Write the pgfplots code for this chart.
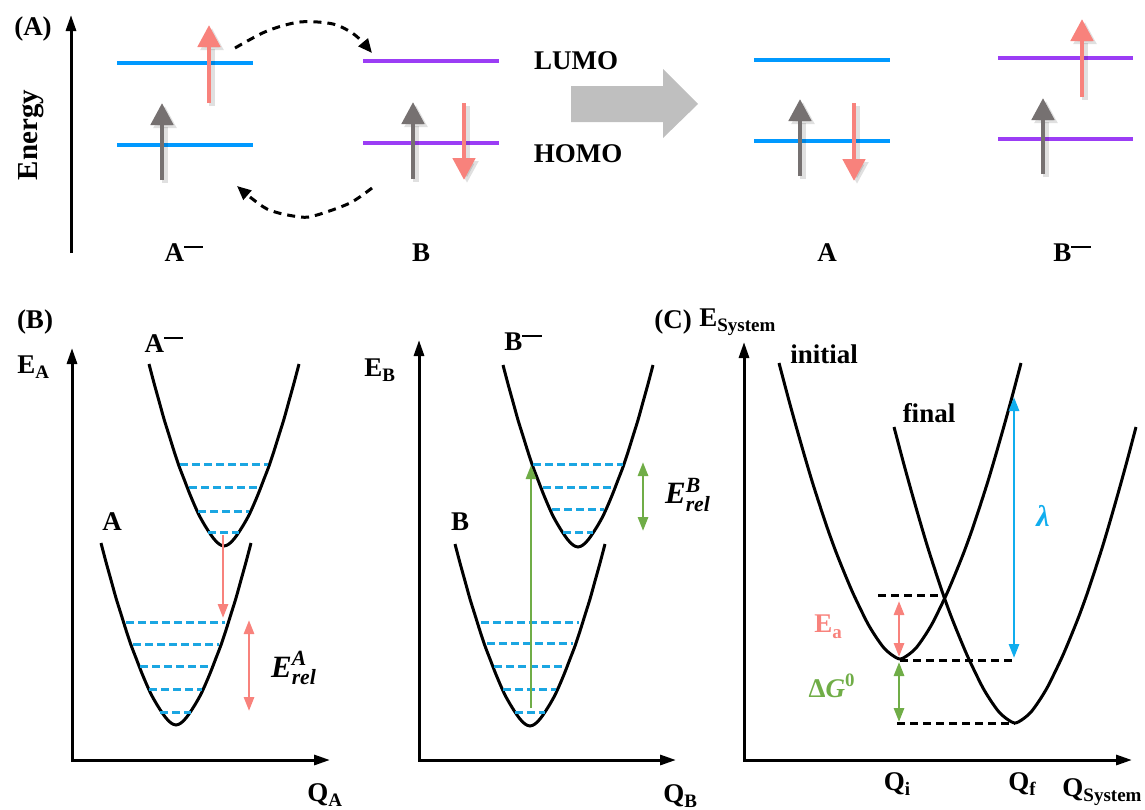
\documentclass[border=0pt]{standalone}
\usepackage{amsmath}
\usepackage{fontspec}
\setmainfont{Liberation Serif}
\usepackage{pgfplots}
\pgfplotsset{compat=1.18}
\usetikzlibrary{arrows.meta}
\definecolor{lvlblue}{HTML}{0099FF}
\definecolor{lvlpurple}{HTML}{9B3DF5}
\definecolor{spinpink}{HTML}{F8827C}
\definecolor{spingray}{HTML}{767171}
\definecolor{dashblue}{HTML}{1BA6E2}
\definecolor{mygreen}{HTML}{70AD47}
\definecolor{lamblue}{HTML}{10ADEE}
\definecolor{blockgray}{HTML}{BFBFBF}
\newcommand{\sub}[1]{\raisebox{-0.45ex}{\fontsize{9.5}{10}\selectfont #1}}
\newcommand{\mns}{\raisebox{0.5em}{\rule{0.72em}{0.1em}}}
\tikzset{
  lbl/.style={font=\fontsize{13.5}{16}\selectfont\bfseries, inner sep=0pt},
  spin/.style={line width=2.4pt, -{Triangle[length=11pt,width=11pt]}},
  shadow/.style={line width=2.6pt, black, opacity=0.12, -{Triangle[length=11pt,width=11pt]}},
  ax/.style={black, line width=1.5pt},
  curve/.style={black, line width=1.5pt, smooth},
  lvl/.style={line width=1.8pt},
  dlvl/.style={dashblue, line width=1.5pt, dash pattern=on 4pt off 2pt},
  dblk/.style={black, line width=1.5pt, dash pattern=on 4pt off 2.5pt},
  darr/.style={line width=1.4pt, {Triangle[length=7pt,width=5pt]}-{Triangle[length=7pt,width=5pt]}},
}
\begin{document}
\begin{tikzpicture}
\begin{axis}[scale only axis, width=572.5pt, height=404.5pt,
  xmin=0, xmax=1145, ymin=0, ymax=809, y dir=reverse, hide axis, clip=false]
% ===== Panel A =====
\addplot[ax, -{Triangle[length=8pt,width=5pt]}] coordinates {(71,253) (71,15)};
\addplot[lvl, lvlblue] coordinates {(117,63) (253,63)};
\addplot[lvl, lvlblue] coordinates {(117,145) (253,145)};
\addplot[lvl, lvlpurple] coordinates {(363,61) (499,61)};
\addplot[lvl, lvlpurple] coordinates {(363,143) (499,143)};
\addplot[lvl, lvlblue] coordinates {(754,60) (890,60)};
\addplot[lvl, lvlblue] coordinates {(754,141) (890,141)};
\addplot[lvl, lvlpurple] coordinates {(998,58) (1133,58)};
\addplot[lvl, lvlpurple] coordinates {(998,139) (1133,139)};
\addplot[shadow] coordinates {(165,183) (165,106)};
\addplot[shadow] coordinates {(212,106) (212,28)};
\addplot[shadow] coordinates {(416,182) (416,105)};
\addplot[shadow] coordinates {(467,106) (467,183)};
\addplot[shadow] coordinates {(803,179) (803,102)};
\addplot[shadow] coordinates {(857,106) (857,184)};
\addplot[shadow] coordinates {(1046,177) (1046,101)};
\addplot[shadow] coordinates {(1085,100) (1085,22)};
\addplot[spin, spingray] coordinates {(162,180) (162,103)};
\addplot[spin, spinpink] coordinates {(209,103) (209,25)};
\addplot[spin, spingray] coordinates {(413,179) (413,102)};
\addplot[spin, spinpink] coordinates {(464,103) (464,180)};
\addplot[spin, spingray] coordinates {(800,176) (800,99)};
\addplot[spin, spinpink] coordinates {(854,103) (854,181)};
\addplot[spin, spingray] coordinates {(1043,174) (1043,98)};
\addplot[spin, spinpink] coordinates {(1082,97) (1082,19)};
\addplot[black, line width=1.5pt, smooth, dash pattern=on 4pt off 3pt, -{Triangle[length=7pt,width=6pt]}]
  coordinates {(235,48) (267,31) (300,22) (333,24) (355,35) (372,53)};
\addplot[black, line width=1.5pt, smooth, dash pattern=on 4pt off 3pt, -{Triangle[length=7pt,width=6pt]}]
  coordinates {(372,188) (350,203) (317,215) (300,217) (267,209) (237,186)};
\addplot[fill=blockgray, draw=none] coordinates {(571,86) (663,86) (663,69) (698,104) (663,138) (663,122) (571,122) (571,86)};
\node[lbl] at (axis cs:33,29) {(A)};
\node[lbl, rotate=90, font=\fontsize{14.5}{16}\selectfont\bfseries] at (axis cs:31,135) {Energy};
\node[lbl] at (axis cs:184,253) {A\mns};
\node[lbl] at (axis cs:421,253) {B};
\node[lbl] at (axis cs:576,61) {LUMO};
\node[lbl] at (axis cs:578,154) {HOMO};
\node[lbl] at (axis cs:827,253) {A};
\node[lbl] at (axis cs:1072,253) {B\mns};

% ===== Panel B left =====
\addplot[ax, {Triangle[length=8pt,width=5pt]}-{Triangle[length=8pt,width=5pt]}] coordinates {(72,348) (72,760) (330,760)};
% A- curve
\addplot[curve] coordinates {(149,364) (154,383) (159,401) (164,419) (169,435) (174,451) (179,466) (184,479) (189,492) (194,504) (199,515) (204,524) (209,532) (214,539) (219,544) (224,546) (229,544) (234,539) (239,532) (244,524) (249,515) (254,504) (259,492) (264,479) (269,466) (274,451) (279,435) (284,419) (289,401) (294,383) (299,364)};
% A curve
\addplot[curve] coordinates {(101,543) (106,562) (111,580) (116,598) (121,614) (126,630) (131,645) (136,658) (141,671) (146,683) (151,694) (156,703) (161,711) (166,718) (171,723) (176,725) (181,723) (186,718) (191,711) (196,703) (201,694) (206,683) (211,671) (216,658) (221,645) (226,630) (231,614) (236,598) (241,580) (246,562) (251,543)};
\addplot[dlvl] coordinates {(180,464) (268,464)};
\addplot[dlvl] coordinates {(189,487) (258,487)};
\addplot[dlvl] coordinates {(198,511) (249,511)};
\addplot[dlvl] coordinates {(208,532) (239,532)};
\addplot[dlvl] coordinates {(126,622) (225,622)};
\addplot[dlvl] coordinates {(133,644) (219,644)};
\addplot[dlvl] coordinates {(140,666) (211,666)};
\addplot[dlvl] coordinates {(149,689) (202,689)};
\addplot[dlvl] coordinates {(160,712) (191,712)};
\addplot[spinpink, line width=1.4pt, -{Triangle[length=7pt,width=5pt]}] coordinates {(223,535) (223,618)};
\addplot[darr, spinpink] coordinates {(249,620) (249,711)};
\node[lbl] at (axis cs:35,322) {(B)};
\node[lbl, anchor=west] at (axis cs:17,367) {E\sub{A}};
\node[lbl, anchor=west] at (axis cs:307,795) {Q\sub{A}};
\node[lbl] at (axis cs:164,344) {A\mns};
\node[lbl] at (axis cs:112,522) {A};
\node[lbl, font=\fontsize{15.5}{18}\selectfont\bfseries] at (axis cs:294,668) {$\text{\bfseries\itshape E}^{\text{\bfseries\itshape A}}_{\text{\bfseries\itshape rel}}$};

% ===== Panel B right =====
\addplot[ax, {Triangle[length=8pt,width=5pt]}-{Triangle[length=8pt,width=5pt]}] coordinates {(419,340) (419,760) (676,760)};
% B- curve
\addplot[curve] coordinates {(503,365) (508,384) (513,402) (518,420) (523,436) (528,452) (533,467) (538,480) (543,493) (548,505) (553,516) (558,525) (563,533) (568,540) (573,545) (578,547) (583,545) (588,540) (593,533) (598,525) (603,516) (608,505) (613,493) (618,480) (623,467) (628,452) (633,436) (638,420) (643,402) (648,384) (653,365)};
% B curve
\addplot[curve] coordinates {(455,544) (460,563) (465,581) (470,599) (475,615) (480,631) (485,646) (490,659) (495,672) (500,684) (505,695) (510,704) (515,712) (520,719) (525,724) (530,726) (535,724) (540,719) (545,712) (550,704) (555,695) (560,684) (565,672) (570,659) (575,646) (580,631) (585,615) (590,599) (595,581) (600,563) (605,544)};
\addplot[dlvl] coordinates {(533,464) (623,464)};
\addplot[dlvl] coordinates {(543,487) (613,487)};
\addplot[dlvl] coordinates {(552,509) (604,509)};
\addplot[dlvl] coordinates {(563,532) (593,532)};
\addplot[dlvl] coordinates {(481,622) (579,622)};
\addplot[dlvl] coordinates {(487,643) (573,643)};
\addplot[dlvl] coordinates {(494,666) (565,666)};
\addplot[dlvl] coordinates {(503,689) (556,689)};
\addplot[dlvl] coordinates {(515,712) (545,712)};
\addplot[mygreen, line width=1.4pt, -{Triangle[length=7pt,width=5pt]}] coordinates {(531,708) (531,465)};
\addplot[darr, mygreen] coordinates {(643,462) (643,531)};
\node[lbl, anchor=west] at (axis cs:364,370) {E\sub{B}};
\node[lbl, anchor=west] at (axis cs:663,796) {Q\sub{B}};
\node[lbl] at (axis cs:523,342) {B\mns};
\node[lbl] at (axis cs:460,522) {B};
\node[lbl, font=\fontsize{15.5}{18}\selectfont\bfseries] at (axis cs:688,495) {$\text{\bfseries\itshape E}^{\text{\bfseries\itshape B}}_{\text{\bfseries\itshape rel}}$};

% ===== Panel C =====
\addplot[ax, {Triangle[length=8pt,width=5pt]}-{Triangle[length=8pt,width=5pt]}] coordinates {(744,342) (744,760) (1132,760)};
% initial curve
\addplot[curve] coordinates {(779,363) (788,397) (796,426) (804,454) (812,481) (820,506) (828,530) (836,552) (844,572) (852,591) (860,608) (868,624) (876,637) (884,648) (892,655) (900,659) (908,655) (916,648) (924,637) (932,624) (940,608) (948,591) (956,572) (964,552) (972,530) (980,506) (988,481) (996,454) (1004,426) (1012,397) (1021,363)};
% final curve
\addplot[curve] coordinates {(894,427) (903,461) (911,490) (919,518) (927,545) (935,570) (943,594) (951,616) (959,636) (967,655) (975,672) (983,688) (991,701) (999,712) (1007,719) (1015,723) (1023,719) (1031,712) (1039,701) (1047,688) (1055,672) (1063,655) (1071,636) (1079,616) (1087,594) (1095,570) (1103,545) (1111,518) (1119,490) (1127,461) (1136,427)};
\addplot[dblk] coordinates {(878,595) (943,595)};
\addplot[dblk] coordinates {(900,660) (1013,660)};
\addplot[dblk] coordinates {(897,723) (1015,723)};
\addplot[darr, spinpink] coordinates {(899,601) (899,657)};
\addplot[darr, mygreen] coordinates {(899,662) (899,722)};
\addplot[darr, lamblue] coordinates {(1014,397) (1014,658)};
\node[lbl] at (axis cs:673,322) {(C)};
\node[lbl, anchor=west] at (axis cs:699,322) {E\sub{System}};
\node[lbl] at (axis cs:824,354) {initial};
\node[lbl] at (axis cs:929,413) {final};
\node[lbl, lamblue, font=\fontsize{15}{18}\selectfont\bfseries] at (axis cs:1043,516) {\itshape λ};
\node[lbl, spinpink] at (axis cs:828,627) {E\sub{a}};
\node[lbl, mygreen] at (axis cs:832,686) {Δ$\text{\bfseries\itshape G}^{\text{\bfseries 0}}$};
\node[lbl] at (axis cs:897,784) {Q\sub{i}};
\node[lbl] at (axis cs:1022,784) {Q\sub{f}};
\node[lbl] at (axis cs:1102,792) {Q\sub{System}};
\end{axis}
\pgfresetboundingbox
\path[use as bounding box] (current axis.south west) rectangle (current axis.north east);
\end{tikzpicture}
\end{document}
